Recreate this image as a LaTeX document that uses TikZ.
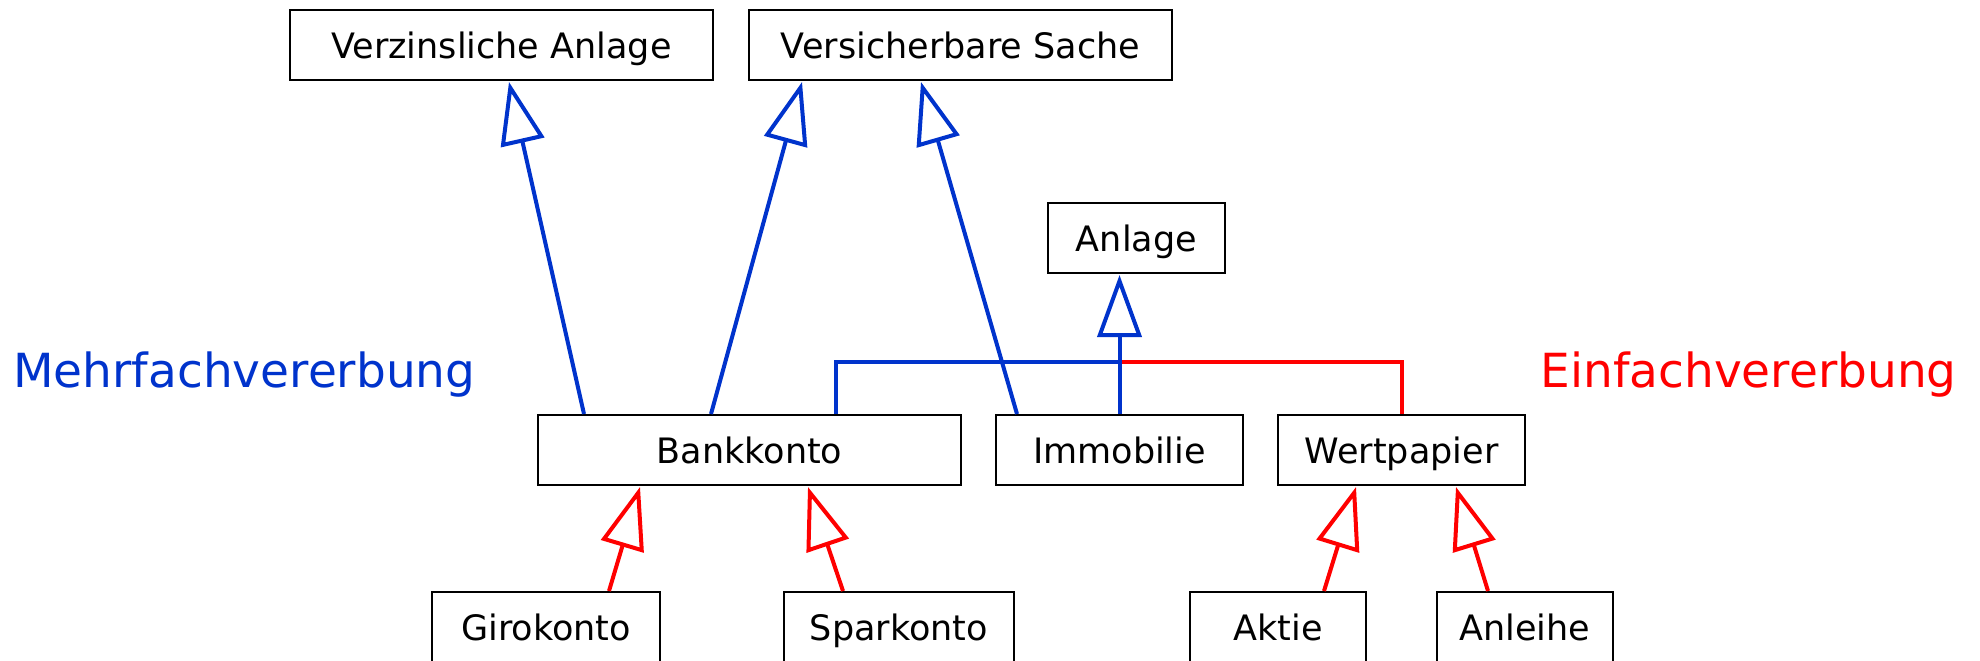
\documentclass[tikz,border=0pt]{standalone}
\usepackage{fontspec}
\setmainfont{DejaVu Sans}
\usetikzlibrary{arrows.meta,calc}
\definecolor{mblue}{RGB}{0,51,204}
\definecolor{sred}{RGB}{255,0,0}
\begin{document}
\begin{tikzpicture}[x=0.5pt,y=-0.5pt,
  cls/.style={draw=black,line width=1pt,inner sep=0pt,minimum height=35pt,
    text height=17pt,text depth=3.5pt,
    font=\fontsize{17.5pt}{20pt}\selectfont},
  inh/.style={line width=2pt,-{Triangle[open,length=31pt,width=22pt]}},
  lbl/.style={font=\fontsize{23.5pt}{27pt}\selectfont,inner sep=0pt}]
\useasboundingbox (0,0) rectangle (1980,660);

% classes
\node[cls,minimum width=211.5pt] (va)   at (501.5,45)  {Verzinsliche Anlage};
\node[cls,minimum width=211.5pt] (vs)   at (960.5,45)  {Versicherbare Sache};
\node[cls,minimum width=88.5pt]  (anl)  at (1136.5,238){Anlage};
\node[cls,minimum width=211.5pt] (bank) at (749.5,450) {Bankkonto};
\node[cls,minimum width=123.5pt] (immo) at (1119.5,450){Immobilie};
\node[cls,minimum width=123.5pt] (wert) at (1401.5,450){Wertpapier};
\node[cls,minimum width=114pt]   (giro) at (546,627)   {Girokonto};
\node[cls,minimum width=115pt]   (spar) at (899,627)   {Sparkonto};
\node[cls,minimum width=88pt]    (akt)  at (1278,627)  {Aktie};
\node[cls,minimum width=88pt]    (anh)  at (1525,627)  {Anleihe};

% captions
\node[lbl,text=mblue,anchor=base west] (mv) at (13,387) {Mehrfachvererbung};
\node[lbl,text=sred,anchor=base east] (ev) at (1957,387) {Einfachvererbung};

% multiple inheritance
\draw[inh,mblue] ($(bank.north west)+(47,0)$) -- ($(va.south west)+(220,1)$);
\draw[inh,mblue] ($(bank.north west)+(174,0)$) -- ($(vs.south west)+(54,1)$);
\draw[inh,mblue] ($(immo.north west)+(22,0)$) -- ($(vs.south west)+(173,1)$);

% single inheritance towards Anlage
\coordinate (j) at ($(immo.north)+(0,-52)$);
\draw[sred,line width=2pt] (wert.north) -- (wert.north |- j) -- (j);
\draw[mblue,line width=2pt] ($(bank.north west)+(299,0)$) |- (j);
\draw[inh,mblue] (immo.north) -- ($(immo.north |- anl.south)+(0,1)$);

% subclasses
\draw[inh,sred] ($(giro.north west)+(178,0)$) -- ($(bank.south west)+(103,1)$);
\draw[inh,sred] ($(spar.north west)+(60,0)$) -- ($(bank.south west)+(271,1)$);
\draw[inh,sred] ($(akt.north west)+(135,0)$) -- ($(wert.south west)+(79,1)$);
\draw[inh,sred] ($(anh.north west)+(52,0)$) -- ($(wert.south west)+(179,1)$);
\end{tikzpicture}
\end{document}
